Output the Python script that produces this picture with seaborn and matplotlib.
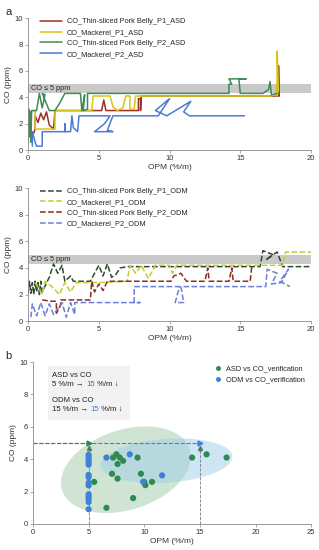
import numpy as np
import pandas as pd
import matplotlib
matplotlib.use("Agg")
import matplotlib.pyplot as plt
import seaborn as sns
from matplotlib.patches import Ellipse, Rectangle
from matplotlib.transforms import Affine2D

sns.set_style("ticks")
plt.rcParams['font.family'] = ['Liberation Sans', 'DejaVu Sans']

#### traces, ASD (panel a top)
pork1_asd_x = [0.1, 0.4, 0.5, 0.5, 0.7, 0.9, 1.1, 1.3, 1.5, 1.8, 1.9, 5.0, 5.2, 5.35, 5.5, 7.8, 7.8, 7.95, 7.95, 8.0, 17.2, 17.7, 17.7, 17.75]
pork1_asd_y = [1.1, 1.3, 1.6, 2.6, 2.1, 2.8, 2.3, 2.9, 1.9, 1.6, 3.0, 3.0, 3.0, 3.8, 3.0, 3.0, 3.9, 3.9, 3.0, 4.1, 4.1, 4.1, 6.4, 4.1]

mack1_asd_x = [0.3, 0.5, 0.5, 1.9, 1.9, 4.5, 4.6, 5.8, 6.0, 6.3, 6.7, 6.9, 7.2, 7.2, 7.5, 7.6, 17.2, 17.5, 17.6, 17.6, 17.7, 17.6]
mack1_asd_y = [3.0, 3.0, 1.6, 1.6, 3.0, 3.0, 4.1, 4.1, 3.3, 3.0, 3.2, 4.1, 4.1, 3.1, 3.1, 4.1, 4.1, 4.2, 5.2, 7.5, 4.5, 4.1]

pork2_asd_x = [0.0, 0.05, 0.1, 0.15, 0.2, 0.25, 0.6, 0.8, 1.0, 1.2, 1.0, 1.5, 1.9, 2.2, 2.6, 3.7, 3.8, 4.0, 3.9, 4.2, 4.2, 14.2, 14.2, 14.4, 14.2, 15.4, 14.9, 15.0, 16.6, 17.0, 17.1, 17.2, 17.6]
pork2_asd_y = [0.5, 3.1, 1.0, 2.9, 0.6, 3.0, 3.0, 4.3, 3.2, 4.2, 4.3, 3.0, 3.0, 3.5, 4.3, 4.3, 3.0, 4.2, 3.0, 3.1, 4.3, 4.3, 5.0, 5.0, 5.4, 5.4, 5.4, 4.3, 4.3, 4.6, 5.2, 4.2, 4.3]

mack2_asd_x = [0.3, 0.3, 0.5, 0.6, 1.0, 1.0, 2.6, 2.6, 2.6, 3.0, 3.1, 3.2, 3.4, 3.5, 3.6, 5.8, 5.4, 4.7, 6.0, 5.6, 6.0, 9.2, 10.0, 9.0, 9.8, 11.5, 11.0, 11.4, 15.3]
mack2_asd_y = [0.3, 1.4, 0.6, 0.3, 0.3, 1.4, 1.4, 2.0, 1.4, 1.4, 2.6, 1.7, 1.5, 1.4, 2.6, 2.6, 2.0, 1.4, 1.4, 1.5, 2.6, 2.6, 3.9, 3.0, 2.6, 3.7, 2.9, 2.6, 2.6]

#### traces, ODM (panel a bottom)
pork1_odm_x = [0.0, 0.1, 0.2, 0.3, 0.4, 0.5, 0.6, 0.7, 0.8, 0.9, 1.0, 1.5, 1.8, 2.1, 2.4, 2.6, 3.0, 3.2, 4.4, 5.0, 5.3, 5.6, 5.9, 6.2, 6.5, 7.0, 16.4, 16.6, 17.3, 16.8, 17.6, 18.0, 20.0]
pork1_odm_y = [2.0, 3.0, 2.1, 2.9, 2.0, 3.0, 2.2, 2.9, 2.0, 3.0, 2.2, 3.3, 4.3, 3.6, 4.2, 3.0, 3.4, 3.0, 3.0, 4.2, 3.4, 4.3, 3.3, 3.5, 4.0, 4.1, 4.1, 5.3, 5.0, 4.6, 5.2, 4.1, 4.1]

mack1_odm_x = [0.5, 1.0, 1.2, 1.8, 2.2, 2.6, 3.0, 3.4, 4.4, 5.0, 7.0, 7.2, 7.6, 8.0, 8.5, 9.0, 10.0, 10.2, 10.5, 18.0, 18.2, 20.0]
mack1_odm_y = [2.9, 2.0, 3.0, 2.5, 2.0, 2.9, 2.2, 2.9, 2.9, 2.9, 3.0, 4.2, 3.6, 4.2, 3.2, 4.2, 4.2, 3.6, 4.2, 4.2, 5.2, 5.2]

pork2_odm_x = [1.0, 1.6, 2.0, 2.0, 2.3, 2.3, 4.4, 4.5, 4.7, 5.0, 5.3, 5.6, 7.0, 10.1, 10.3, 10.8, 11.2, 12.5, 12.7, 12.8, 14.2, 14.4, 14.5, 15.7, 15.8, 16.0]
pork2_odm_y = [1.6, 1.5, 1.5, 0.6, 1.2, 1.6, 1.6, 3.0, 2.2, 2.8, 2.3, 3.0, 3.0, 3.0, 3.4, 3.6, 3.0, 3.0, 4.0, 3.0, 3.0, 4.0, 3.0, 3.0, 4.0, 4.1]

mack2_odm_x = [0.2, 0.3, 0.6, 0.9, 1.2, 1.5, 1.8, 2.4, 2.7, 3.0, 3.3, 3.3, 7.9, 7.5, 7.5, 10.7, 10.5, 10.4, 11.0, 10.8, 16.8, 16.9, 17.6, 17.2, 17.9, 18.4, 17.8, 18.5]
mack2_odm_y = [0.3, 1.3, 0.4, 1.4, 0.4, 1.3, 0.5, 1.4, 0.3, 1.4, 0.5, 1.4, 1.4, 1.4, 2.6, 2.6, 1.8, 1.4, 1.4, 2.6, 2.6, 3.9, 3.6, 2.8, 2.9, 3.9, 3.0, 2.6]

#### verification points (panel b)
asd_opm = [5.5, 6.6, 7.1, 7.2, 7.5, 7.6, 7.6, 7.8, 8.1, 9.0, 9.4, 9.7, 10.0, 10.1, 10.7, 14.3, 15.6, 17.4]
asd_co = [2.6, 1.0, 3.1, 4.1, 4.3, 3.7, 2.8, 4.1, 3.9, 1.6, 4.1, 3.1, 2.6, 2.4, 2.6, 4.1, 4.3, 4.1]
odm_opm = [5, 5, 5, 5, 5, 5, 5, 5, 5, 5, 5, 5, 5, 5, 6.6, 8.7, 9.9, 11.6]
odm_co = [4.27, 4.1, 3.94, 3.8, 3.66, 3.03, 2.89, 2.54, 2.38, 1.83, 1.69, 1.54, 1.36, 0.91, 4.1, 4.3, 2.6, 3.0]

asd_names = ['CO_Thin-sliced Pork Belly_P1_ASD', 'CO_Mackerel_P1_ASD',
             'CO_Thin-sliced Pork Belly_P2_ASD', 'CO_Mackerel_P2_ASD']
odm_names = ['CO_Thin-sliced Pork Belly_P1_ODM', 'CO_Mackerel_P1_ODM',
             'CO_Thin-sliced Pork Belly_P2_ODM', 'CO_Mackerel_P2_ODM']
asd_cols = ['#9c2f20', '#d8c41a', '#3f8a55', '#4d7bd4']
odm_cols = ['#2f4a30', '#c8cc2c', '#8a2c20', '#6a7fd8']

fs = 5.3
grey = '#8a8a8a'


def style_ax(ax, xmax, xstep):
    ax.set_xlim(0, xmax)
    ax.set_ylim(0, 10)
    ax.set_xticks(np.arange(0, xmax + 1, xstep))
    ax.set_yticks(np.arange(0, 11, 2))
    ax.tick_params(labelsize=5.5, length=2, width=0.5, color=grey, labelcolor='#333333', pad=1.5)
    for s in ['left', 'bottom']:
        ax.spines[s].set_color(grey)
        ax.spines[s].set_linewidth(0.6)
    sns.despine(ax=ax)
    ax.set_xlabel('OPM (%/m)', fontsize=6, labelpad=1.5, color='#333333')
    ax.set_ylabel('CO (ppm)', fontsize=6, labelpad=2, color='#333333')


def trace_panel(ax, xs, ys, names, cols, ls):
    ax.axhspan(4.3, 5.0, color='#c9c9c9', lw=0, zorder=0)
    ax.text(0.2, 4.65, 'CO ≤ 5 ppm', fontsize=fs, va='center', zorder=1)
    for x, y, n, c in zip(xs, ys, names, cols):
        sns.lineplot(x=x, y=y, sort=False, estimator=None, color=c, label=n,
                     linewidth=1.1, linestyle=ls, ax=ax)
    style_ax(ax, 20, 5)
    ax.legend(loc='upper left', bbox_to_anchor=(0.02, 1.05), frameon=False,
              fontsize=fs, handlelength=3, labelspacing=0.5, handletextpad=0.6)


fig = plt.figure(figsize=(3.19, 5.5), dpi=100)

ax1 = fig.add_axes([0.088, 0.727, 0.887, 0.240])
trace_panel(ax1, [pork1_asd_x, mack1_asd_x, pork2_asd_x, mack2_asd_x],
            [pork1_asd_y, mack1_asd_y, pork2_asd_y, mack2_asd_y], asd_names, asd_cols, '-')

ax2 = fig.add_axes([0.088, 0.416, 0.887, 0.242])
trace_panel(ax2, [pork1_odm_x, mack1_odm_x, pork2_odm_x, mack2_odm_x],
            [pork1_odm_y, mack1_odm_y, pork2_odm_y, mack2_odm_y], odm_names, odm_cols, '--')

ax3 = fig.add_axes([0.1034, 0.0473, 0.872, 0.2945])
green = '#2f8a52'
blue = '#3f80d8'

# ellipses drawn in screen-shaped units (px) then mapped to data
sx, sy = 278 / 25, 162 / 10
for cx, cy, a, b, ang, col in [(8.35, 3.35, 67, 40, 18, '#a3cbab'),
                               (12.0, 3.9, 66, 22, 4, '#9fcfe8')]:
    t = Affine2D().scale(a, b).rotate_deg(ang).scale(1 / sx, 1 / sy).translate(cx, cy) + ax3.transData
    ax3.add_patch(Ellipse((0, 0), 2, 2, transform=t, facecolor=col, alpha=0.5, lw=0, zorder=0))

# guide lines
ax3.plot([0, 15], [5, 5], ls='--', lw=0.8, color=blue, zorder=1)
ax3.plot([15], [5], marker='>', ms=3.5, color=blue, zorder=3)
ax3.plot([0, 5], [5, 5], ls='--', lw=0.8, color=green, zorder=2)
ax3.plot([5], [5], marker='>', ms=3.5, color=green, zorder=3)
for xv in [5, 15]:
    ax3.plot([xv, xv], [0, 4.7], ls='--', lw=0.6, color='#7a7a7a', zorder=1)
    ax3.plot([xv], [4.7], marker='^', ms=3, color='#557a60', zorder=3)

pts = pd.DataFrame({'OPM': asd_opm + odm_opm, 'CO': asd_co + odm_co,
                    'set': ['ASD vs CO_verification'] * len(asd_opm) + ['ODM vs CO_verification'] * len(odm_opm)})
sns.scatterplot(data=pts, x='OPM', y='CO', hue='set', palette=[green, blue],
                s=20, linewidth=0, ax=ax3, zorder=4)
style_ax(ax3, 25, 5)
ax3.legend(loc='upper right', bbox_to_anchor=(1.0, 1.02), frameon=False, fontsize=fs,
           handletextpad=0.1, labelspacing=0.5, markerscale=0.8, title=None)

# info box
ax3.add_patch(Rectangle((0.054, 0.64), 0.295, 0.335, transform=ax3.transAxes,
                        facecolor='#f2f2f2', lw=0, zorder=0))
bs = 5.6
tk = dict(fontsize=bs, transform=ax3.transAxes, va='baseline', color='#222222')
ax3.text(0.07, 0.905, 'ASD vs CO', **tk)
t1 = ax3.text(0.07, 0.85, '5 %/m → ', **tk)
t2 = ax3.annotate('15', xy=(1, 0), xycoords=t1, va='bottom', fontsize=bs, color=green)
ax3.annotate(' %/m ↓', xy=(1, 0), xycoords=t2, va='bottom', fontsize=bs, color='#222222')
ax3.text(0.07, 0.755, 'ODM vs CO', **tk)
t3 = ax3.text(0.07, 0.70, '15 %/m → ', **tk)
t4 = ax3.annotate('15', xy=(1, 0), xycoords=t3, va='bottom', fontsize=bs, color=blue)
ax3.annotate(' %/m ↓', xy=(1, 0), xycoords=t4, va='bottom', fontsize=bs, color='#222222')

fig.text(0.018, 0.978, 'a', fontsize=8, va='center')
fig.text(0.015, 0.352, 'b', fontsize=8, va='center')

plt.savefig('out.png', dpi=100)
